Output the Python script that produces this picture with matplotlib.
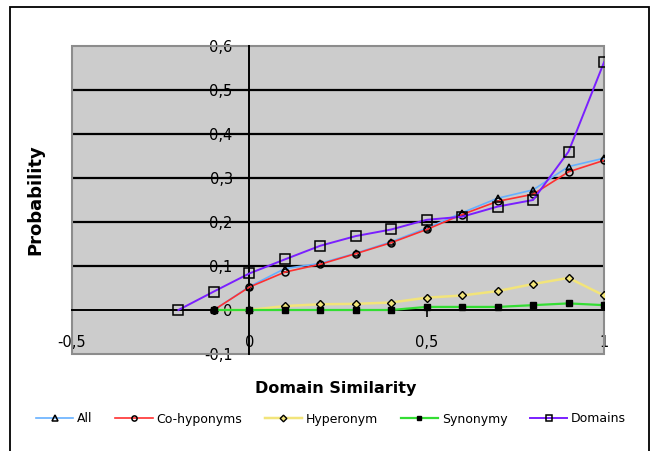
import matplotlib
matplotlib.use("Agg")
import matplotlib.pyplot as plt
from matplotlib.patches import Rectangle

# ---- data ----
x_domains = [-0.2, -0.1, 0.0, 0.1, 0.2, 0.3, 0.4, 0.5, 0.6, 0.7, 0.8, 0.9, 1.0]
domains = [0.0, 0.042, 0.083, 0.115, 0.146, 0.168, 0.183, 0.205, 0.212, 0.235, 0.250, 0.360, 0.563]

x_other = [-0.1, 0.0, 0.1, 0.2, 0.3, 0.4, 0.5, 0.6, 0.7, 0.8, 0.9, 1.0]
all_rel = [0.0, 0.053, 0.094, 0.106, 0.129, 0.155, 0.186, 0.221, 0.254, 0.273, 0.326, 0.345]
co_hyponyms = [0.0, 0.052, 0.086, 0.104, 0.128, 0.153, 0.183, 0.217, 0.247, 0.263, 0.314, 0.340]
hyperonym = [0.0, 0.0, 0.009, 0.013, 0.014, 0.017, 0.028, 0.033, 0.043, 0.059, 0.073, 0.033]
synonymy = [0.0, 0.0, 0.0, 0.0, 0.0, 0.0, 0.007, 0.007, 0.007, 0.011, 0.015, 0.011]

y_ticks = [-0.1, 0.0, 0.1, 0.2, 0.3, 0.4, 0.5, 0.6]
y_ticklabels = ["-0,1", "0", "0,1", "0,2", "0,3", "0,4", "0,5", "0,6"]
x_ticks = [-0.5, 0.0, 0.5, 1.0]
x_ticklabels = ["-0,5", "0", "0,5", "1"]

W, H = 658, 451
fig = plt.figure(figsize=(W / 100, H / 100), dpi=100)
fig.patch.set_facecolor("white")

# outer frame
fig.add_artist(Rectangle((10 / W, -0.02), 639 / W, 1 - 7 / H + 0.02,
                         transform=fig.transFigure, fill=False,
                         edgecolor="black", linewidth=1.3))

ax = fig.add_axes([72 / W, 1 - 354 / H, 532 / W, 308 / H])
ax.set_facecolor("#CCCCCC")
ax.set_xlim(-0.5, 1.0)
ax.set_ylim(-0.1, 0.6)

for s in ["top", "right"]:
    ax.spines[s].set_visible(False)
ax.spines["left"].set_position(("data", 0))
ax.spines["bottom"].set_position(("data", 0))
ax.spines["left"].set_linewidth(1.4)
ax.spines["bottom"].set_linewidth(1.4)
ax.spines["left"].set_zorder(1.5)
ax.spines["bottom"].set_zorder(1.5)

# gray plot border
ax.add_patch(Rectangle((0, 0), 1, 1, transform=ax.transAxes, fill=False,
                       edgecolor="#8C8C8C", linewidth=1.5, zorder=1.4,
                       clip_on=False))

ax.set_yticks(y_ticks)
ax.set_yticklabels(y_ticklabels)
ax.set_xticks(x_ticks)
ax.set_xticklabels(x_ticklabels)
ax.tick_params(axis="y", direction="out", length=4, width=1.2, pad=8,
               labelsize=10.5)
ax.tick_params(axis="x", direction="out", length=5, width=1.2, pad=13,
               labelsize=10.5)

ax.yaxis.grid(True, color="black", linewidth=1.6)
ax.set_axisbelow(True)
gl = ax.get_ygridlines()
gl[0].set_visible(False)
gl[-1].set_visible(False)
gl[1].set_visible(False)

lw = 1.2
ax.plot(x_other, all_rel, color="#66B0FF", lw=lw, marker="^", ms=5,
        mfc="none", mec="black", mew=1.1, label="All", zorder=3)
ax.plot(x_other, co_hyponyms, color="#FF3030", lw=lw, marker="o", ms=5,
        mfc="none", mec="black", mew=1.1, label="Co-hyponyms", zorder=3)
ax.plot(x_other, hyperonym, color="#F2E47A", lw=lw + 0.6, marker="D", ms=4.5,
        mfc="#F2E47A", mec="black", mew=1.0, label="Hyperonym", zorder=3)
ax.plot(x_other, synonymy, color="#33DD33", lw=lw + 0.4, marker="s", ms=4.2,
        mfc="black", mec="black", mew=1.0, label="Synonymy", zorder=3)
ax.plot(x_domains, domains, color="#7A1FFF", lw=lw + 0.2, marker="s", ms=6.5,
        mfc="none", mec="black", mew=1.1, label="Domains", zorder=3)

fig.text(35 / W, 1 - 200 / H, "Probability", rotation=90, ha="center",
         va="center", fontsize=13, fontweight="bold")
fig.text(336 / W, 1 - 389 / H, "Domain Similarity", ha="center",
         va="center", fontsize=11.5, fontweight="bold")

handles, labels = ax.get_legend_handles_labels()
fig.legend(handles, labels, loc="center", bbox_to_anchor=(331 / W, 1 - 419 / H),
           ncol=5, frameon=False, fontsize=9, handlelength=3.0,
           handletextpad=0.3, columnspacing=1.8, borderpad=0, markerscale=0.75)

fig.savefig("out.png", dpi=100)
